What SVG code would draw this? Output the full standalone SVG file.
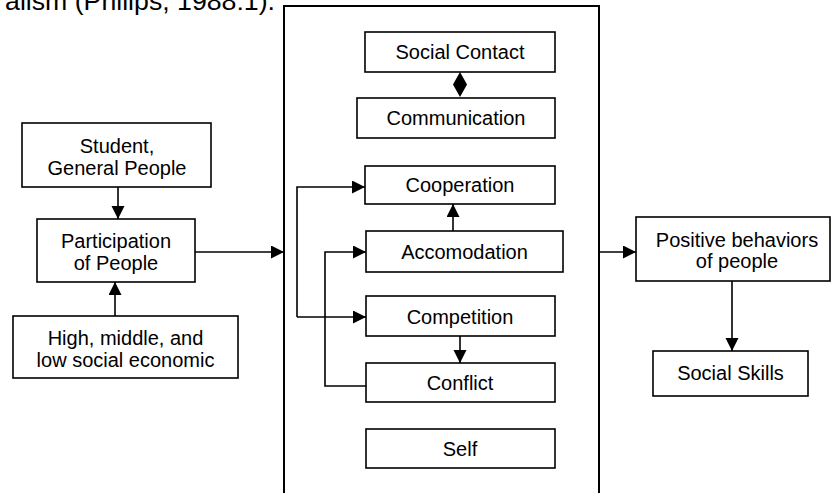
<svg xmlns="http://www.w3.org/2000/svg" width="832" height="493" viewBox="0 0 832 493">
<style>
  .box { fill: #ffffff; stroke: #000000; stroke-width: 1.6; }
  .frame { fill: none; stroke: #000000; stroke-width: 2; }
  .lbl { font-family: "Liberation Sans", Arial, sans-serif; font-size: 20px; fill: #000000; text-anchor: middle; }
  .body { font-family: "Liberation Sans", Arial, sans-serif; font-size: 26.7px; fill: #000000; }
  .conn { fill: none; stroke: #000000; stroke-width: 1.6; }
</style>
<defs>
  <marker id="arr" markerUnits="userSpaceOnUse" markerWidth="14" markerHeight="14" refX="13" refY="6.5" orient="auto">
    <path d="M0,0 L13,6.5 L0,13 z" fill="#000000"/>
  </marker>
</defs>
<rect width="832" height="493" fill="#ffffff"/>
<text class="body" x="275" y="10" text-anchor="end">alism (Philips, 1988:1).</text>

<g id="frame"><rect class="frame" x="284" y="6" width="315" height="500"/></g>

<g id="student"><rect class="box" x="22" y="123" width="189" height="64"/>
  <text class="lbl" x="117" y="153">Student,</text><text class="lbl" x="117" y="175">General People</text></g>
<g id="participation"><rect class="box" x="37" y="219" width="158" height="63"/>
  <text class="lbl" x="116" y="248">Participation</text><text class="lbl" x="116" y="270">of People</text></g>
<g id="economic"><rect class="box" x="13" y="316" width="225" height="62"/>
  <text class="lbl" x="125.5" y="345">High, middle, and</text><text class="lbl" x="125.5" y="367">low social economic</text></g>

<g id="social-contact"><rect class="box" x="365" y="32" width="190" height="40"/><text class="lbl" x="460" y="59">Social Contact</text></g>
<g id="communication"><rect class="box" x="357" y="98" width="198" height="40"/><text class="lbl" x="456" y="125">Communication</text></g>
<g id="cooperation"><rect class="box" x="365" y="166" width="190" height="38"/><text class="lbl" x="460" y="192">Cooperation</text></g>
<g id="accomodation"><rect class="box" x="366" y="231" width="197" height="41"/><text class="lbl" x="464.5" y="259">Accomodation</text></g>
<g id="competition"><rect class="box" x="366" y="296" width="189" height="40"/><text class="lbl" x="460" y="324">Competition</text></g>
<g id="conflict"><rect class="box" x="366" y="363" width="189" height="39"/><text class="lbl" x="460" y="390">Conflict</text></g>
<g id="self"><rect class="box" x="366" y="429" width="189" height="39"/><text class="lbl" x="460" y="456">Self</text></g>

<g id="positive"><rect class="box" x="636" y="217" width="194" height="64"/>
  <text class="lbl" x="737" y="247">Positive behaviors</text><text class="lbl" x="737" y="268">of people</text></g>
<g id="social-skills"><rect class="box" x="653" y="351" width="155" height="45"/><text class="lbl" x="730.5" y="380">Social Skills</text></g>

<g id="connectors">
  <line class="conn" x1="118" y1="187" x2="118" y2="219" marker-end="url(#arr)"/>
  <line class="conn" x1="115" y1="316" x2="115" y2="282" marker-end="url(#arr)"/>
  <line class="conn" x1="195" y1="252" x2="284" y2="252" marker-end="url(#arr)"/>
  <line class="conn" x1="599" y1="252" x2="636" y2="252" marker-end="url(#arr)"/>
  <line class="conn" x1="732" y1="281" x2="732" y2="351" marker-end="url(#arr)"/>
  <polygon points="460,72 467,84.5 460,97 453,84.5" fill="#000000"/>
  <line class="conn" x1="453" y1="231" x2="453" y2="204" marker-end="url(#arr)"/>
  <line class="conn" x1="460" y1="336" x2="460" y2="363" marker-end="url(#arr)"/>
  <polyline class="conn" points="297,317 297,187 365,187" marker-end="url(#arr)"/>
  <line class="conn" x1="297" y1="317" x2="366" y2="317" marker-end="url(#arr)"/>
  <polyline class="conn" points="366,386 325,386 325,252 366,252" marker-end="url(#arr)"/>
</g>
</svg>
